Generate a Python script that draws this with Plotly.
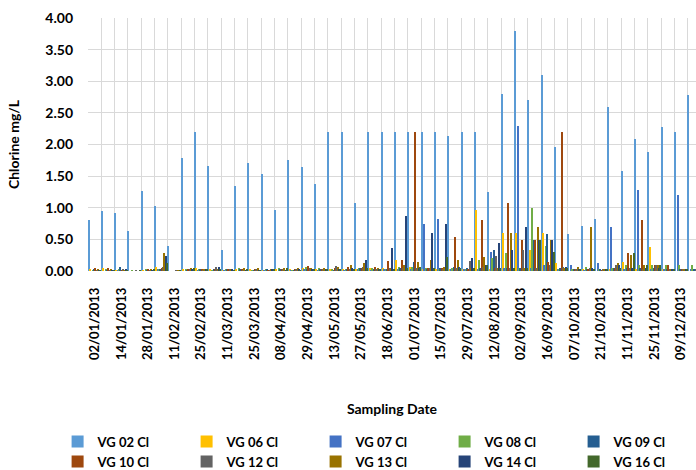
import plotly.graph_objects as go

dates = ["02/01/2013", "07/01/2013", "14/01/2013", "21/01/2013", "28/01/2013", "04/02/2013",
         "11/02/2013", "18/02/2013", "25/02/2013", "04/03/2013", "11/03/2013", "18/03/2013",
         "25/03/2013", "02/04/2013", "08/04/2013", "22/04/2013", "29/04/2013", "06/05/2013",
         "13/05/2013", "20/05/2013", "27/05/2013", "10/06/2013", "18/06/2013", "24/06/2013",
         "01/07/2013", "08/07/2013", "15/07/2013", "22/07/2013", "29/07/2013", "05/08/2013",
         "12/08/2013", "26/08/2013", "02/09/2013", "09/09/2013", "16/09/2013", "30/09/2013",
         "07/10/2013", "14/10/2013", "21/10/2013", "04/11/2013", "11/11/2013", "18/11/2013",
         "25/11/2013", "02/12/2013", "09/12/2013", "16/12/2013"]

vg02 = [0.81, 0.95, 0.91, 0.64, 1.27, 1.03, 0.40, 1.78, 2.20, 1.66, 0.34, 1.35, 1.71, 1.54, 0.96, 1.76,
        1.65, 1.37, 2.20, 2.20, 1.08, 2.20, 2.20, 2.20, 2.20, 2.20, 2.20, 2.13, 2.20, 2.20, 1.25, 2.80,
        3.80, 2.70, 3.10, 1.96, 0.58, 0.71, 0.82, 2.59, 1.58, 2.08, 1.88, 2.27, 2.19, 2.78]
vg06 = [0.02, 0.04, 0.01, 0.00, 0.01, 0.07, 0.00, 0.02, 0.05, 0.02, 0.01, 0.03, 0.02, 0.01, 0.03, 0.02,
        0.05, 0.03, 0.02, 0.02, 0.03, 0.04, 0.05, 0.18, 0.07, 0.03, 0.02, 0.02, 0.03, 0.97, 0.02, 0.60,
        0.60, 0.33, 0.60, 0.12, 0.00, 0.02, 0.00, 0.03, 0.15, 0.03, 0.38, 0.02, 0.00, 0.00]
vg07 = [0.00, 0.00, 0.01, 0.00, 0.00, 0.02, 0.00, 0.00, 0.01, 0.00, 0.01, 0.00, 0.00, 0.01, 0.00, 0.01,
        0.02, 0.01, 0.00, 0.01, 0.02, 0.01, 0.02, 0.03, 0.02, 0.74, 0.82, 0.03, 0.02, 0.03, 0.30, 0.05,
        2.30, 0.04, 0.10, 0.02, 0.10, 0.01, 0.12, 0.70, 0.03, 1.28, 0.02, 0.02, 1.20, 0.02]
vg08 = [0.01, 0.02, 0.02, 0.01, 0.02, 0.02, 0.00, 0.03, 0.02, 0.01, 0.02, 0.04, 0.01, 0.02, 0.04, 0.01,
        0.06, 0.05, 0.02, 0.03, 0.04, 0.05, 0.03, 0.06, 0.06, 0.04, 0.03, 0.05, 0.03, 0.17, 0.20, 0.28,
        0.05, 0.99, 0.40, 0.03, 0.02, 0.07, 0.02, 0.04, 0.10, 0.10, 0.10, 0.10, 0.10, 0.10]
vg09 = [0.02, 0.01, 0.07, 0.00, 0.01, 0.03, 0.00, 0.01, 0.02, 0.02, 0.02, 0.02, 0.01, 0.02, 0.02, 0.01,
        0.03, 0.02, 0.01, 0.02, 0.04, 0.02, 0.03, 0.04, 0.15, 0.03, 0.05, 0.06, 0.04, 0.05, 0.33, 0.04,
        0.05, 0.49, 0.58, 0.04, 0.02, 0.02, 0.02, 0.05, 0.04, 0.05, 0.04, 0.03, 0.03, 0.02]
vg10 = [0.05, 0.04, 0.01, 0.00, 0.02, 0.04, 0.00, 0.02, 0.02, 0.03, 0.02, 0.02, 0.03, 0.01, 0.02, 0.02,
        0.08, 0.02, 0.04, 0.07, 0.05, 0.07, 0.16, 0.18, 2.20, 0.05, 0.04, 0.53, 0.03, 0.80, 0.05, 1.08,
        0.49, 0.49, 0.15, 2.20, 0.03, 0.02, 0.01, 0.04, 0.28, 0.80, 0.10, 0.09, 0.02, 0.00]
vg12 = [0.01, 0.01, 0.02, 0.01, 0.01, 0.07, 0.01, 0.03, 0.01, 0.07, 0.02, 0.01, 0.02, 0.01, 0.02, 0.03,
        0.04, 0.03, 0.08, 0.03, 0.06, 0.03, 0.04, 0.05, 0.04, 0.05, 0.03, 0.04, 0.16, 0.06, 0.24, 0.05,
        0.33, 0.05, 0.10, 0.07, 0.02, 0.04, 0.02, 0.10, 0.05, 0.03, 0.10, 0.02, 0.02, 0.02]
vg13 = [0.02, 0.02, 0.01, 0.00, 0.02, 0.29, 0.01, 0.05, 0.03, 0.02, 0.02, 0.05, 0.05, 0.02, 0.05, 0.04,
        0.05, 0.04, 0.06, 0.10, 0.12, 0.04, 0.05, 0.10, 0.15, 0.17, 0.06, 0.17, 0.05, 0.22, 0.05, 0.60,
        0.05, 0.70, 0.49, 0.04, 0.07, 0.70, 0.02, 0.13, 0.25, 0.10, 0.10, 0.02, 0.02, 0.00]
vg14 = [0.01, 0.01, 0.03, 0.00, 0.01, 0.23, 0.00, 0.02, 0.02, 0.07, 0.02, 0.01, 0.01, 0.02, 0.01, 0.02,
        0.03, 0.02, 0.03, 0.04, 0.18, 0.03, 0.37, 0.87, 0.05, 0.60, 0.75, 0.06, 0.20, 0.10, 0.44, 0.33,
        0.70, 0.49, 0.49, 0.07, 0.03, 0.04, 0.02, 0.09, 0.05, 0.04, 0.04, 0.02, 0.02, 0.00]
vg16 = [0.01, 0.01, 0.01, 0.01, 0.02, 0.12, 0.01, 0.04, 0.02, 0.02, 0.01, 0.02, 0.01, 0.02, 0.04, 0.01,
        0.02, 0.02, 0.02, 0.03, 0.04, 0.02, 0.03, 0.04, 0.06, 0.04, 0.22, 0.05, 0.04, 0.10, 0.04, 0.05,
        0.05, 0.49, 0.30, 0.05, 0.02, 0.02, 0.02, 0.05, 0.29, 0.10, 0.10, 0.02, 0.02, 0.10]

series_names = ["VG 02 Cl", "VG 06 Cl", "VG 07 Cl", "VG 08 Cl", "VG 09 Cl",
                "VG 10 Cl", "VG 12 Cl", "VG 13 Cl", "VG 14 Cl", "VG 16 Cl"]
series_values = [vg02, vg06, vg07, vg08, vg09, vg10, vg12, vg13, vg14, vg16]
series_colors = ["#5B9BD5", "#FFC000", "#4472C4", "#70AD47", "#255E91",
                 "#9E480E", "#636363", "#997300", "#264478", "#43682B"]

tick_text = [d if i % 2 == 0 else "" for i, d in enumerate(dates)]

fig = go.Figure()
for name, vals, col in zip(series_names, series_values, series_colors):
    fig.add_trace(go.Bar(x=dates, y=vals, name=name,
                         marker=dict(color=col, line=dict(width=0))))

FONT = "Lato, 'Open Sans', sans-serif"

fig.update_layout(
    width=696, height=470,
    margin=dict(l=88, r=0, t=18, b=199, autoexpand=False),
    plot_bgcolor="white", paper_bgcolor="white",
    barmode="group", bargap=0, bargroupgap=0,
    font=dict(family=FONT, size=13, color="#000000"),
    showlegend=True,
    legend=dict(orientation="h", x=-0.05, xanchor="left", y=-0.615, yanchor="top",
                entrywidth=84, entrywidthmode="pixels", traceorder="normal",
                itemwidth=30, font=dict(family=FONT, size=13, color="#000000", weight="bold"),
                bgcolor="rgba(0,0,0,0)", tracegroupgap=0),
    xaxis=dict(type="category", categoryorder="array", categoryarray=dates,
               tickmode="array", tickvals=dates, ticktext=tick_text,
               tickangle=-90, tickson="boundaries", ticks="",
               showgrid=True, gridcolor="#D9D9D9", gridwidth=1,
               showline=False, zeroline=False, automargin=False,
               range=[-0.5, 45.12], ticklabelstandoff=13,
               tickfont=dict(family=FONT, size=13, color="#000000", weight="bold"),
               title=dict(text="Sampling Date", standoff=45,
                          font=dict(family=FONT, size=14, color="#000000", weight="bold"))),
    yaxis=dict(range=[0, 4], dtick=0.5, tick0=0, tickformat=".2f",
               showgrid=True, gridcolor="#D9D9D9", gridwidth=1,
               zeroline=False, showline=False, ticks="", automargin=False,
               ticklabelstandoff=14,
               tickfont=dict(family=FONT, size=14, color="#000000", weight="bold"),
               title=dict(text="Chlorine mg/L", standoff=22,
                          font=dict(family=FONT, size=14, color="#000000", weight="bold"))),
)

fig.write_html("out.html", config={"displayModeBar": False},
               post_script="document.body.style.margin='0px';document.body.style.overflow='hidden';")
